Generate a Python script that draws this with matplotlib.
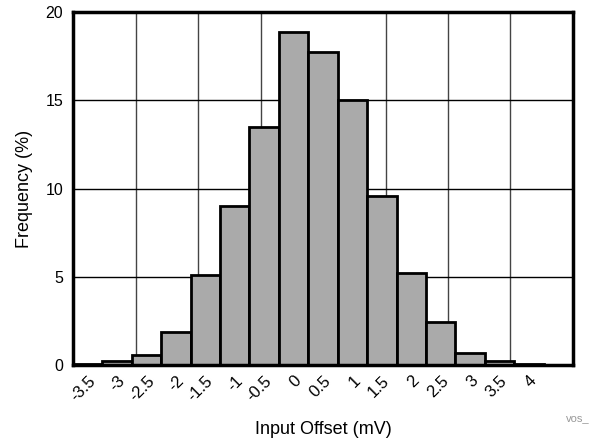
import numpy as np
import matplotlib.pyplot as plt

plt.rcParams['font.family'] = ['Liberation Sans', 'DejaVu Sans']

# histogram bins (mV) and frequency (%)
offset_labels = ['-3.5', '-3', '-2.5', '-2', '-1.5', '-1', '-0.5', '0',
                 '0.5', '1', '1.5', '2', '2.5', '3', '3.5', '4']
frequency = [0.05, 0.22, 0.57, 1.85, 5.1, 9.0, 13.5, 18.85,
             17.75, 15.0, 9.55, 5.2, 2.45, 0.68, 0.25, 0.08]

fig = plt.figure(figsize=(6.05, 4.41), dpi=100)
ax = fig.add_axes([0.1207, 0.1723, 0.8264, 0.8005])

n_slots = len(offset_labels) + 1
pos = np.arange(len(offset_labels))
ax.bar(pos, frequency, width=1.0, align='edge', color='#aaaaaa',
       edgecolor='black', linewidth=2, zorder=3)

ax.set_xlim(0, n_slots)
ax.set_ylim(0, 20)

# x labels at bar centres, grid independent of bars (8 divisions)
ax.set_xticks(pos + 0.5)
ax.set_xticklabels(offset_labels, rotation=45, ha='right',
                   rotation_mode='anchor', fontsize=12)
ax.set_xticks(np.linspace(0, n_slots, 9), minor=True)
ax.tick_params(axis='x', which='both', length=0, pad=6)
ax.grid(True, axis='x', which='minor', color='#444444', linewidth=1, zorder=0)

ax.set_yticks([0, 5, 10, 15, 20])
ax.tick_params(axis='y', length=0, labelsize=11.5, pad=7)
ax.grid(True, axis='y', which='major', color='black', linewidth=1, zorder=0)

for s in ax.spines.values():
    s.set_linewidth(2.5)
    s.set_zorder(4)

ax.set_xlabel('Input Offset (mV)', fontsize=13, labelpad=12)
ax.set_ylabel('Frequency (%)', fontsize=13, labelpad=9)

fig.text(0.975, 0.045, 'vos_', fontsize=8, color='#999999', ha='right')

fig.savefig('out.png', dpi=100)
